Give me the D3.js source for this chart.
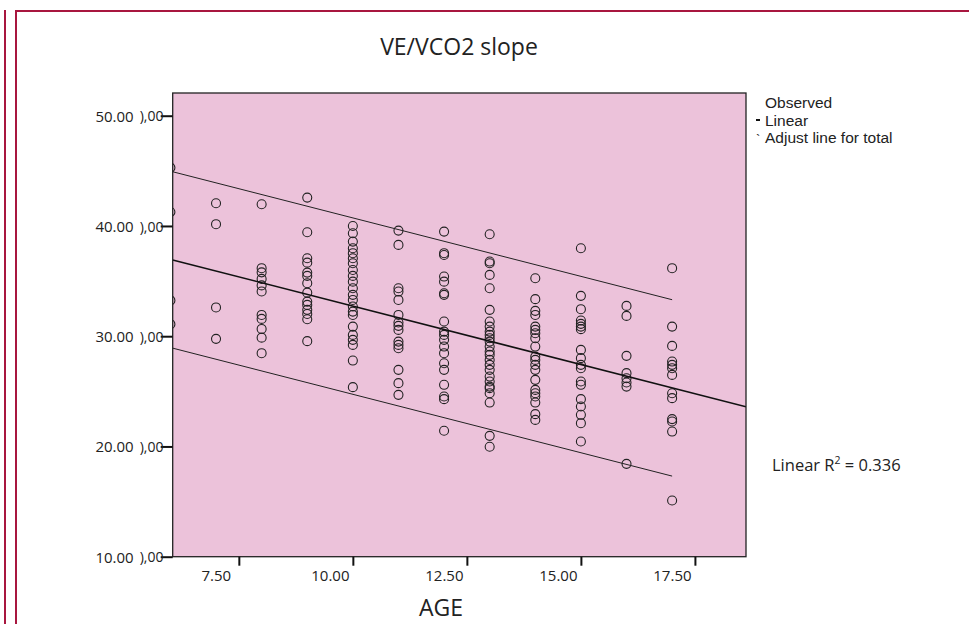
<!DOCTYPE html>
<html>
<head>
<meta charset="utf-8">
<script src="https://cdn.jsdelivr.net/npm/d3@7"></script>
<style>
  html, body { margin: 0; padding: 0; background: #ffffff; }
  svg { display: block; }
  text { font-family: "Open Sans", "Noto Sans", sans-serif; fill: #222; }
</style>
</head>
<body>
<div id="chart"></div>
<script>
// ---------------- data ----------------
const ages = [6, 7, 8, 9, 10, 11, 12, 13, 14, 15, 16, 17];
const slopeAge6  = [45.29, 41.27, 33.25, 31.09];
const slopeAge7  = [42.06, 40.16, 32.61, 29.76];
const slopeAge8  = [41.97, 36.17, 35.79, 35.20, 34.61, 34.06, 31.93, 31.57, 30.66, 29.87, 28.46];
const slopeAge9  = [42.57, 39.43, 37.07, 36.67, 35.77, 35.47, 34.81, 33.95, 33.14, 32.84, 32.39, 32.02, 31.54, 29.55];
const slopeAge10 = [40.00, 39.34, 38.58, 37.98, 37.53, 37.07, 36.62, 36.01, 35.47, 34.95, 34.35, 33.75, 33.29, 32.69, 32.23, 31.93, 30.87, 30.12, 29.67, 29.21, 27.79, 25.38];
const slopeAge11 = [39.58, 38.28, 34.35, 34.05, 33.29, 31.93, 31.24, 30.94, 30.57, 29.51, 29.21, 28.91, 26.95, 25.74, 24.68];
const slopeAge12 = [39.49, 37.53, 37.37, 35.41, 34.95, 33.90, 33.75, 31.33, 30.42, 30.12, 29.67, 29.06, 28.46, 27.55, 26.95, 25.59, 24.53, 24.29, 21.42];
const slopeAge13 = [39.25, 36.77, 36.62, 35.56, 34.35, 32.39, 31.33, 30.87, 30.42, 30.12, 29.82, 29.51, 29.06, 28.61, 28.31, 27.85, 27.40, 26.95, 26.34, 25.89, 25.43, 25.29, 24.83, 23.98, 20.96, 19.97];
const slopeAge14 = [35.26, 33.36, 32.30, 31.93, 30.87, 30.57, 30.27, 29.82, 29.06, 28.15, 27.85, 27.40, 26.95, 26.04, 25.13, 24.83, 24.53, 23.98, 22.93, 22.41];
const slopeAge15 = [37.98, 33.66, 32.45, 31.42, 31.12, 30.87, 30.64, 28.76, 28.01, 27.40, 27.10, 25.89, 25.59, 24.29, 23.62, 22.87, 22.11, 20.45];
const slopeAge16 = [32.75, 31.84, 28.22, 26.65, 26.19, 25.80, 25.43, 18.42];
const slopeAge17 = [36.17, 30.87, 29.12, 27.70, 27.40, 27.10, 26.49, 24.83, 24.38, 22.48, 22.26, 21.35, 15.10];
const slopeByAge = [slopeAge6, slopeAge7, slopeAge8, slopeAge9, slopeAge10, slopeAge11,
                    slopeAge12, slopeAge13, slopeAge14, slopeAge15, slopeAge16, slopeAge17];

// linear fit
const fitIntercept = 43.33;
const fitSlope = -1.06;
const intervalHalfWidth = 8.0;   // "Adjust line for total" band
const bandAgeRange = [6, 17];

const xTicks = [7.5, 10, 12.5, 15, 17.5];
const yTicks = [10, 20, 30, 40, 50];
const xDomain = [6.05, 18.62];
const yDomain = [10, 52.06];

const titleText = "VE/VCO2 slope";
const xTitle = "AGE";
const legendLabels = ["Observed", "Linear", "Adjust line for total"];
const r2Label = "0.336";

// ---------------- drawing ----------------
const W = 969, H = 624;
const plot = { left: 172.7, right: 746, top: 93, bottom: 556.7 };

const svg = d3.select("#chart").append("svg")
  .attr("width", W).attr("height", H);

svg.append("rect").attr("width", W).attr("height", H).attr("fill", "#ffffff");

// page frame (crimson)
const frameColor = "#a8173f";
svg.append("line").attr("x1", 5).attr("x2", 5).attr("y1", 10).attr("y2", H)
  .attr("stroke", frameColor).attr("stroke-width", 2);
svg.append("path").attr("d", `M16,${H} L16,11 L${W},11`)
  .attr("fill", "none").attr("stroke", frameColor).attr("stroke-width", 2);

const x = d3.scaleLinear().domain(xDomain).range([plot.left, plot.right]);
const y = d3.scaleLinear().domain(yDomain).range([plot.bottom, plot.top]);

// plot background
svg.append("rect")
  .attr("x", plot.left).attr("y", plot.top)
  .attr("width", plot.right - plot.left).attr("height", plot.bottom - plot.top)
  .attr("fill", "#ecc2da");

svg.append("clipPath").attr("id", "clip").append("rect")
  .attr("x", plot.left).attr("y", plot.top)
  .attr("width", plot.right - plot.left).attr("height", plot.bottom - plot.top);

const g = svg.append("g").attr("clip-path", "url(#clip)");

// points
const points = [];
ages.forEach((a, i) => slopeByAge[i].forEach(v => points.push({ age: a, v })));
g.selectAll("circle.pt").data(points).enter().append("circle")
  .attr("class", "pt")
  .attr("cx", d => x(d.age)).attr("cy", d => y(d.v))
  .attr("r", 4.5)
  .attr("fill", "none").attr("stroke", "#222").attr("stroke-width", 1.1);

// fit line across the whole plot
const fit = a => fitIntercept + fitSlope * a;
const line = d3.line().x(d => x(d[0])).y(d => y(d[1]));
g.append("path")
  .datum(xDomain.map(a => [a, fit(a)]))
  .attr("d", line).attr("fill", "none").attr("stroke", "#111").attr("stroke-width", 1.6);

// interval lines
[intervalHalfWidth, -intervalHalfWidth].forEach(off => {
  g.append("path")
    .datum(bandAgeRange.map(a => [a, fit(a) + off]))
    .attr("d", line).attr("fill", "none").attr("stroke", "#222").attr("stroke-width", 1);
});

// plot border
svg.append("rect")
  .attr("x", plot.left).attr("y", plot.top)
  .attr("width", plot.right - plot.left).attr("height", plot.bottom - plot.top)
  .attr("fill", "none").attr("stroke", "#222").attr("stroke-width", 1.3);

// y axis
const yAxis = svg.append("g").attr("transform", `translate(${plot.left},0)`)
  .call(d3.axisLeft(y).tickValues(yTicks).tickSize(12).tickSizeOuter(0).tickFormat(d3.format(".2f")));
yAxis.select(".domain").remove();
yAxis.selectAll(".tick line").attr("stroke", "#111").attr("stroke-width", 2);
yAxis.selectAll(".tick text")
  .attr("x", -39).attr("dy", "0.36em")
  .style("font-family", "'Open Sans', sans-serif").style("font-size", "15px").attr("fill", "#222");
yAxis.selectAll(".tick").append("text")
  .attr("x", -33).attr("dy", "0.36em").attr("text-anchor", "start")
  .style("font-family", "'Open Sans', sans-serif").style("font-size", "14px").attr("fill", "#2a2a3a")
  .text("),00");

// x axis
const xAxis = svg.append("g").attr("transform", `translate(0,${plot.bottom})`)
  .call(d3.axisBottom(x).tickValues(xTicks).tickSize(9).tickSizeOuter(0).tickFormat(d3.format(".2f")));
xAxis.select(".domain").remove();
xAxis.selectAll(".tick line").attr("stroke", "#111").attr("stroke-width", 2);
xAxis.selectAll(".tick text")
  .attr("x", -23).attr("y", 14).attr("dy", "0.71em")
  .style("font-family", "'Open Sans', sans-serif").style("font-size", "15px").attr("fill", "#222");

// titles
svg.append("text").attr("x", 459).attr("y", 55).attr("text-anchor", "middle")
  .style("font-size", "23px").text(titleText);
svg.append("text").attr("x", 441).attr("y", 616).attr("text-anchor", "middle")
  .style("font-size", "23px").text(xTitle);

// legend
const legendFont = "'Liberation Sans', Arial, sans-serif";
const legY = [108, 125.5, 143];
legendLabels.forEach((t, i) => {
  svg.append("text").attr("x", 765).attr("y", legY[i])
    .style("font-family", legendFont).style("font-size", "15.5px").text(t);
});
svg.append("rect").attr("x", 756).attr("y", 119).attr("width", 4).attr("height", 2).attr("fill", "#111");
svg.append("text").attr("x", 756).attr("y", 144)
  .style("font-family", legendFont).style("font-size", "13px").text("`");

// R2 annotation
const r2 = svg.append("text").attr("x", 772).attr("y", 471).style("font-size", "16.5px");
r2.append("tspan").text("Linear R");
r2.append("tspan").attr("dy", -7).style("font-size", "10.5px").text("2");
r2.append("tspan").attr("dy", 7).text(" = " + r2Label);
</script>
</body>
</html>
